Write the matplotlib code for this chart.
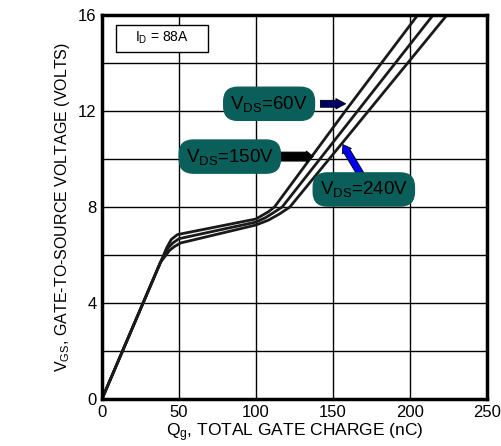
import numpy as np
import matplotlib.pyplot as plt

plt.rcParams['font.family'] = ['Liberation Sans', 'DejaVu Sans']
plt.rcParams['mathtext.fontset'] = 'custom'
plt.rcParams['mathtext.rm'] = 'Liberation Sans'
plt.rcParams['mathtext.it'] = 'Liberation Sans'

# gate charge curves (Qg in nC, Vgs in V)
qg_60 = [0, 38, 42, 45, 49, 100, 104, 108, 112, 158, 205]
vgs_60 = [0, 5.7, 6.3, 6.65, 6.85, 7.5, 7.65, 7.8, 8.0, 12.0, 16.0]
qg_150 = [0, 38, 43, 46, 50, 100, 106, 111, 117, 166, 215]
vgs_150 = [0, 5.7, 6.3, 6.5, 6.68, 7.37, 7.55, 7.75, 8.0, 12.0, 16.0]
qg_240 = [0, 38, 44, 47, 51, 100, 108, 115, 122, 173, 224]
vgs_240 = [0, 5.7, 6.2, 6.35, 6.5, 7.25, 7.45, 7.7, 8.0, 12.0, 16.0]

x_ticks = [0, 50, 100, 150, 200, 250]
y_ticks = [0, 4, 8, 12, 16]

teal = '#0b5f5a'

fig = plt.figure(figsize=(5.01, 4.46), dpi=100)
ax = fig.add_axes([0.2036, 0.1054, 0.7685, 0.861])

for q, v in [(qg_60, vgs_60), (qg_150, vgs_150), (qg_240, vgs_240)]:
    ax.plot(q, v, color='#1a1a1a', lw=2.0, solid_joinstyle='round')

ax.set_xlim(0, 250)
ax.set_ylim(0, 16)
ax.set_xticks(x_ticks)
ax.set_yticks(y_ticks)
ax.set_yticks(np.arange(0, 17, 2), minor=True)
ax.grid(True, which='both', color='black', lw=1.0)
ax.tick_params(which='both', length=0, labelsize=12, pad=4)
for s in ax.spines.values():
    s.set_linewidth(2.5)

ax.set_xlabel(r'Q$_\mathregular{g}$, TOTAL GATE CHARGE (nC)', fontsize=12.5, labelpad=1)
ax.set_ylabel(r'V$_\mathregular{GS}$, GATE-TO-SOURCE VOLTAGE (VOLTS)', fontsize=11.5, labelpad=4)

# I_D box
ax.add_patch(plt.Rectangle((9, 14.45), 60, 1.15, fc='white', ec='black', lw=1.0, zorder=4))
ax.text(39, 15.05, r'I$_\mathregular{D}$ = 88A', fontsize=10, ha='center', va='center', zorder=5)

# labels with arrows
box = dict(boxstyle='round,pad=0.35,rounding_size=0.75', fc=teal, ec=teal)
ax.annotate('', xy=(160, 12.3), xytext=(140, 12.3),
            arrowprops=dict(arrowstyle='simple,head_width=0.75,head_length=0.7,tail_width=0.5',
                            fc='#000066', ec='black', lw=0.6), zorder=6)
ax.text(108.5, 12.3, r'V$_\mathregular{DS}$=60V', fontsize=13.5, ha='center', va='center',
        bbox=box, zorder=7)

ax.annotate('', xy=(139, 10.1), xytext=(112, 10.1),
            arrowprops=dict(arrowstyle='simple,head_width=0.8,head_length=0.5,tail_width=0.65',
                            fc='black', ec='black', lw=0.6), zorder=6)
ax.text(83, 10.1, r'V$_\mathregular{DS}$=150V', fontsize=13.5, ha='center', va='center',
        bbox=box, zorder=7)

ax.annotate('', xy=(155.5, 10.7), xytext=(169.5, 9.2),
            arrowprops=dict(arrowstyle='simple,head_width=0.75,head_length=0.55,tail_width=0.5',
                            fc='#0000ee', ec='black', lw=0.6), zorder=6)
ax.text(170, 8.73, r'V$_\mathregular{DS}$=240V', fontsize=13.5, ha='center', va='center',
        bbox=box, zorder=7)

fig.savefig('out.png', dpi=100)
